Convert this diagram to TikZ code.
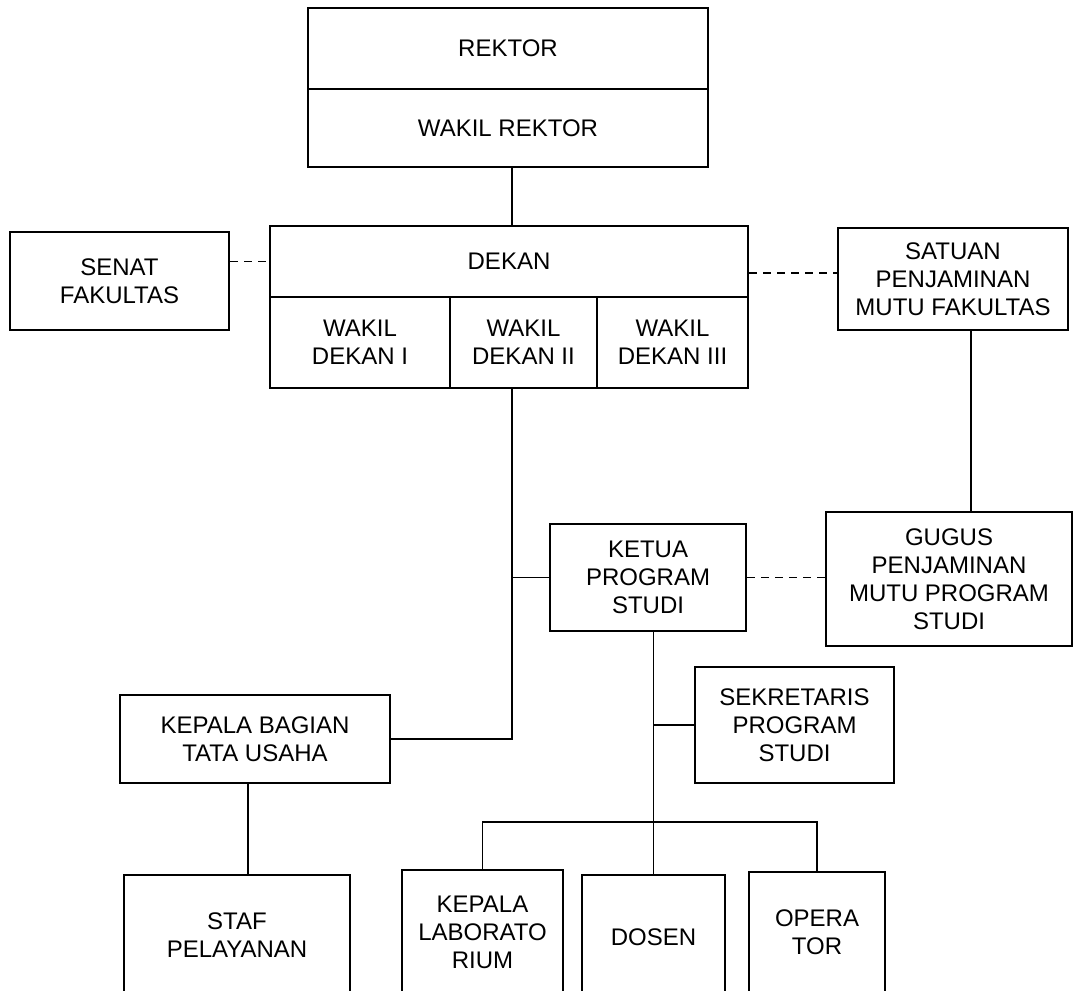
\documentclass[tikz,border=0pt]{standalone}
\usepackage{fontspec}
\setmainfont{Liberation Sans}
\usetikzlibrary{positioning}

\begin{document}
\begin{tikzpicture}[x=0.5pt,y=-0.5pt,
	kotak/.style={draw,line width=1pt,inner sep=0pt,align=center,font=\fontsize{12}{14}\selectfont},
	garis/.style={line width=0.9pt},
	putus/.style={line width=0.9pt,dashed,dash pattern=on 4pt off 3pt}]
	\useasboundingbox[fill=white] (0,0) rectangle (1074,990);
	\clip (0,0) rectangle (1074,990);
	\node[kotak,minimum width=200pt,minimum height=40.5pt] (rektor) at (508,48.5) {REKTOR};
	\node[kotak,minimum width=200pt,minimum height=39pt] (wakilrektor) at (508,128) {WAKIL REKTOR};
	\node[kotak,minimum width=239pt,minimum height=35.5pt] (dekan) at (509,261.5) {DEKAN};
	\node[kotak,minimum width=90pt,minimum height=45.5pt] (wd1) at (360,342.5) {WAKIL\\DEKAN I};
	\node[kotak,minimum width=73.5pt,minimum height=45.5pt] (wd2) at (523.5,342.5) {WAKIL\\DEKAN II};
	\node[kotak,minimum width=75.5pt,minimum height=45.5pt] (wd3) at (672.5,342.5) {WAKIL\\DEKAN III};
	\node[kotak,minimum width=109.5pt,minimum height=49pt] (senat) at (119.5,281) {SENAT\\FAKULTAS};
	\node[kotak,minimum width=115pt,minimum height=51pt] (spmf) at (953,279) {SATUAN\\PENJAMINAN\\MUTU FAKULTAS};
	\node[kotak,minimum width=123pt,minimum height=67pt] (gpmps) at (949,579) {GUGUS\\PENJAMINAN\\MUTU PROGRAM\\STUDI};
	\node[kotak,minimum width=98pt,minimum height=53.5pt] (kaprodi) at (648,577.5) {KETUA\\PROGRAM\\STUDI};
	\node[kotak,minimum width=99.5pt,minimum height=58pt] (sekprodi) at (794.5,725) {SEKRETARIS\\PROGRAM\\STUDI};
	\node[kotak,minimum width=135pt,minimum height=44pt] (kabag) at (255,739) {KEPALA BAGIAN\\TATA USAHA};
	\node[kotak,minimum width=113pt,minimum height=60pt] (staf) at (237,935) {STAF\\PELAYANAN};
	\node[kotak,minimum width=80.5pt,minimum height=62pt] (kalab) at (482.5,932) {KEPALA\\LABORATO\\RIUM};
	\node[kotak,minimum width=71.5pt,minimum height=62pt] (dosen) at (653.5,937) {DOSEN};
	\node[kotak,minimum width=68pt,minimum height=60pt] (operator) at (817,932) {OPERA\\TOR};
	\coordinate (sumbu) at (512,200);
	\coordinate (cabang) at (653.5,822);
	\draw[garis] (wakilrektor.south -| sumbu) -- (dekan.north -| sumbu);
	\draw[putus] (senat.east |- dekan.west) -- (dekan.west);
	\draw[putus] (dekan.east |- spmf.west) ++(0,-6) -- ([yshift=3pt]spmf.west);
	\draw[garis] ([xshift=9pt]spmf.south) -- ([xshift=9pt]spmf.south |- gpmps.north);
	\draw[garis] (wd2.south -| sumbu) |- (kabag.east);
	\draw[garis] (kaprodi.west -| sumbu) -- (kaprodi.west);
	\draw[putus] (kaprodi.east) -- (kaprodi.east -| gpmps.west);
	\draw[garis] (kaprodi.south -| dosen.north) -- (dosen.north);
	\draw[garis] (sekprodi.west -| dosen.north) -- (sekprodi.west);
	\draw[garis] (kalab.north) |- (cabang) -| (operator.north);
	\draw[garis] ([xshift=-3.5pt]kabag.south) -- ([xshift=-3.5pt]kabag.south |- staf.north);
\end{tikzpicture}
\end{document}
